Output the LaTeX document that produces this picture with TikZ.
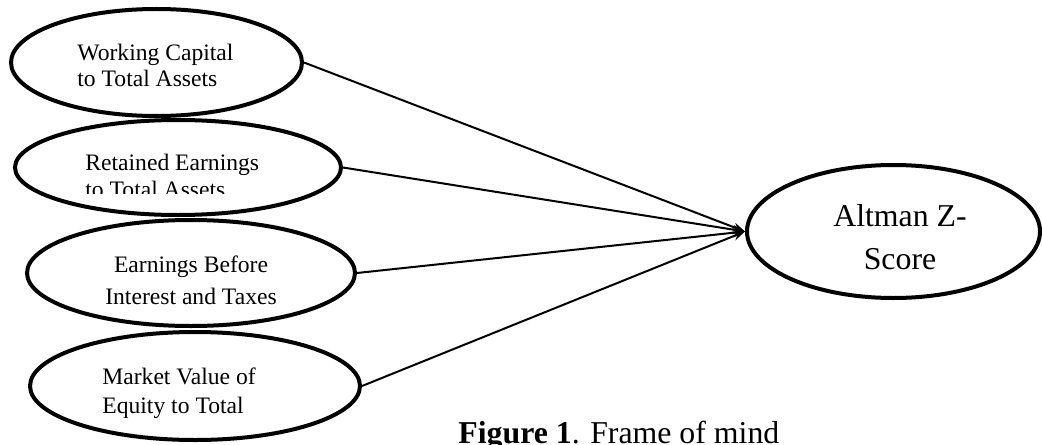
\documentclass[tikz,border=0pt]{standalone}
\usepackage{fontspec}
\setmainfont{Liberation Serif}
\usetikzlibrary{shapes.geometric, arrows.meta}

\begin{document}
\begin{tikzpicture}[x=0.5pt,y=-0.5pt]
	\tikzstyle{oval} = [ellipse,draw=black,line width=2pt,inner sep=0pt]
	\tikzstyle{words} = [inner sep=0pt,font=\fontsize{11.8}{13}\selectfont]
	\tikzstyle{link} = [-{Stealth[length=6pt,width=4.5pt]},line width=1pt]
	\useasboundingbox (0,0) rectangle (1042,444);
	\node[oval,minimum width=145.5pt,minimum height=53.5pt] (n1) at (156.5,62.5) {};
	\node[oval,minimum width=163pt,minimum height=47.5pt] (n2) at (178,167.5) {};
	\node[oval,minimum width=164pt,minimum height=53pt] (n3) at (191,273) {};
	\node[oval,minimum width=165pt,minimum height=54pt] (n4) at (195,386) {};
	\node[oval,minimum width=146.5pt,minimum height=66.5pt] (n5) at (893.5,231.5) {};
	
	\node[words,anchor=north west,align=left] (t1) at (77,44) {Working Capital\\to Total Assets};
	\begin{scope}
		\clip (0,100) rectangle (400,193);
		\node[words,anchor=north west,align=left,font=\fontsize{11.8}{13.5}\selectfont] (t2) at (85,154) {Retained Earnings\\to Total Assets};
	\end{scope}
	\node[words,anchor=north,align=center,font=\fontsize{11.8}{16}\selectfont] (t3) at (191,255) {Earnings Before\\Interest and Taxes};
	\node[words,anchor=north west,align=left,font=\fontsize{11.8}{14.5}\selectfont] (t4) at (102,367) {Market Value of\\Equity to Total};
	\node[words,anchor=north,align=center,font=\fontsize{15.9}{21.5}\selectfont] (t5) at (900,204) {Altman Z-\\Score};
	\node[words,anchor=north west,font=\fontsize{15.9}{19}\selectfont] (cap) at (458,421) {\textbf{Figure 1}. Frame of mind};
	
	\coordinate (tip) at (n5.west);
	\draw[link] (n1.east)--(tip);
	\draw[link] (n2.east)--(tip);
	\draw[link] (n3.east)--(tip);
	\draw[link] (n4.east)--(tip);
\end{tikzpicture}
\end{document}
